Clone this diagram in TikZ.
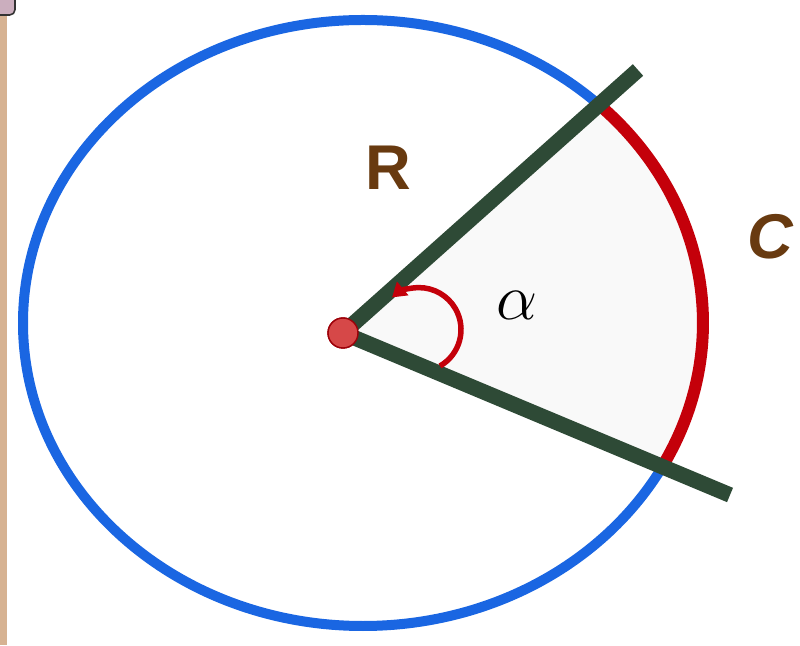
\documentclass[tikz,border=0pt]{standalone}
\usepackage{fontspec}
\setsansfont{Liberation Sans}
\usetikzlibrary{arrows.meta}
\definecolor{ringBlue}{RGB}{26,102,226}
\definecolor{armGreen}{RGB}{46,74,54}
\definecolor{arcRed}{RGB}{196,0,10}
\definecolor{lblBrown}{RGB}{104,58,16}
\definecolor{dotRed}{RGB}{214,72,72}
\definecolor{edgeTan}{RGB}{214,178,146}

\begin{document}
\begin{tikzpicture}[x=0.02cm,y=0.02cm,
      arm/.style={draw=armGreen,line width=0.31cm,line cap=butt},
      lbl/.style={text=lblBrown,font=\sffamily\bfseries\fontsize{36}{40}\selectfont},
      arr/.style={-{Triangle[length=2.8mm,width=3.4mm]},draw=arcRed,line width=0.11cm}]
    \useasboundingbox (0,0) rectangle (800,645);
    % page edge on the left
    \fill[edgeTan] (0,0) rectangle (7,645);
    \draw[black!80,fill=magenta!25!gray!60,rounded corners=3pt,line width=0.9pt] (-12,630) rectangle (15,658);
    % sector
    \coordinate (ctr) at (363,322);
    \coordinate (up) at (597,542);
    \coordinate (upEnd) at (638,575);
    \coordinate (loEnd) at (730,150);
    \node[circle,fill=dotRed,draw=arcRed!80!black,line width=0.8pt,minimum size=0.6cm,inner sep=0] (O) at (343,312) {};
    \fill[black!2.5] (O.center) -- (up) arc[start angle=46.5,end angle=-28.8,x radius=340,y radius=303] -- cycle;
    \draw[ringBlue,line width=0.2cm] (ctr) ellipse[x radius=340,y radius=303];
    \draw[arcRed,line width=0.24cm] (up) arc[start angle=46.5,end angle=-28.8,x radius=340,y radius=303];
    \draw[arm] (O.center) -- (upEnd);
    \draw[arm] (O.center) -- (loEnd);
    \node[circle,fill=dotRed,draw=arcRed!80!black,line width=0.8pt,minimum size=0.6cm,inner sep=0] at (O) {};
    % angle
    \draw[arr] (440,279) arc[start angle=-60,end angle=130,radius=42];
    \node[scale=2.15] (alpha) at (517,340) {\LARGE$\alpha$};
    \node[lbl] (R) at (388,477) {R};
    \node[lbl,font=\sffamily\bfseries\itshape\fontsize{36}{40}\selectfont] (C) at (770,408) {C};
\end{tikzpicture}
\end{document}
